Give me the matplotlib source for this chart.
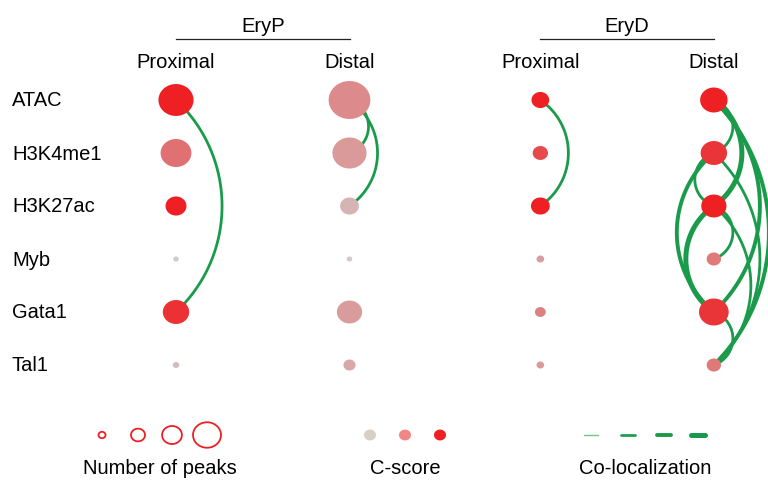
import numpy as np
import matplotlib
matplotlib.use('Agg')
import matplotlib.pyplot as plt
from matplotlib.path import Path
from matplotlib.colors import LinearSegmentedColormap

plt.rcParams['font.family'] = ['Liberation Sans', 'DejaVu Sans']

#####################
# Data
#####################
marks = ['ATAC', 'H3K4me1', 'H3K27ac', 'Myb', 'Gata1', 'Tal1']
groups = ['EryP', 'EryD']
regions = ['Proximal', 'Distal']

# number of peaks (thousands) per column, rows in order of marks
peaks_eryp_prox = [12.6, 9.7, 4.5, 0.31, 7.1, 0.44]
peaks_eryp_dist = [17.8, 11.9, 3.6, 0.31, 6.5, 1.5]
peaks_eryd_prox = [3.2, 2.4, 3.6, 0.6, 1.2, 0.6]
peaks_eryd_dist = [7.7, 7.1, 6.5, 2.1, 9.0, 2.1]

# C-score (scaled 0-1)
cscore_eryp_prox = [1.0, 0.62, 1.0, 0.0, 0.92, 0.12]
cscore_eryp_dist = [0.5, 0.38, 0.18, 0.03, 0.36, 0.28]
cscore_eryd_prox = [1.0, 0.8, 1.0, 0.35, 0.55, 0.38]
cscore_eryd_dist = [1.0, 0.9, 1.0, 0.58, 0.9, 0.58]

# co-localization links: (mark a, mark b, side, level 1-4)
links_eryp_prox = [('ATAC', 'Gata1', 1, 2)]
links_eryp_dist = [('ATAC', 'H3K4me1', 1, 2), ('ATAC', 'H3K27ac', 1, 2)]
links_eryd_prox = [('ATAC', 'H3K27ac', 1, 2)]
links_eryd_dist = [('ATAC', 'H3K4me1', 1, 2), ('ATAC', 'H3K27ac', 1, 4),
                   ('ATAC', 'Gata1', 1, 3), ('ATAC', 'Tal1', 1, 3),
                   ('H3K4me1', 'H3K27ac', -1, 2), ('H3K4me1', 'Gata1', -1, 3),
                   ('H3K4me1', 'Tal1', 1, 2), ('H3K27ac', 'Myb', 1, 2),
                   ('H3K27ac', 'Gata1', -1, 4), ('H3K27ac', 'Tal1', 1, 2),
                   ('Gata1', 'Tal1', 1, 2)]

legend_peaks = [0.5, 2, 4, 8]
legend_cscore = [0.0, 0.5, 1.0]
legend_coloc = [1, 2, 3, 4]

columns = [
    (peaks_eryp_prox, cscore_eryp_prox, links_eryp_prox),
    (peaks_eryp_dist, cscore_eryp_dist, links_eryp_dist),
    (peaks_eryd_prox, cscore_eryd_prox, links_eryd_prox),
    (peaks_eryd_dist, cscore_eryd_dist, links_eryd_dist),
]
col_x = [0, 1, 2.1, 3.1]

#####################
# Styles
#####################
cmap = LinearSegmentedColormap.from_list('cs', ['#d2cbcb', '#dc8a8b', '#ee2024'])
legend_cs_colors = ['#d8d0c4', '#f28585', '#ee2024']
coloc_lw = {1: 1.0, 2: 2.0, 3: 2.8, 4: 3.6}
coloc_col = {1: '#6cc485', 2: '#1f9e4d', 3: '#1a9a48', 4: '#18984a'}
green = '#1a9b4b'

XU, YU = 173.5, 53.0          # pixels per column / row unit
X0, Y0 = 176.0, 101.0

def px2x(p):
    return (p - X0) / XU

def px2y(p):
    return (p - Y0) / YU

def diam(pk):
    # marker height in px from peak count
    return 9 * np.sqrt(pk)

t = np.linspace(0, 2 * np.pi, 60)
ell = Path(np.column_stack([1.1 * np.cos(t), np.sin(t)]), closed=True)

def msize(pk):
    return (1.1 * diam(np.asarray(pk)) * 0.72) ** 2

def arc(cx, ya, yb, side):
    # circular arc between two rows of one column, worked out in pixels
    c = abs(yb - ya) * YU
    s = 10 + 0.17 * c
    R = (c * c / 4 + s * s) / (2 * s)
    th = np.arcsin(c / 2 / R)
    phi = np.linspace(-th, th, 80)
    xc = cx * XU + side * (s - R)
    ym = (ya + yb) / 2 * YU
    xs = xc + side * R * np.cos(phi)
    ys = ym + R * np.sin(phi)
    return xs / XU, ys / YU

fig = plt.figure(figsize=(7.68, 4.81), dpi=100)
ax = fig.add_axes([0, 0, 1, 1])
ax.set_xlim(px2x(0), px2x(768))
ax.set_ylim(px2y(481), px2y(0))
ax.set_axis_off()

rows = np.arange(len(marks))
for cx, (pk, cs, links) in zip(col_x, columns):
    for a, b, side, lvl in links:
        xs, ys = arc(cx, marks.index(a), marks.index(b), side)
        ax.plot(xs, ys, color=green, lw=coloc_lw[lvl], zorder=1, clip_on=False)
    ax.scatter(np.full(len(marks), cx), rows, s=msize(pk), c=cmap(np.asarray(cs)),
               marker=ell, linewidths=0, zorder=2)

# headers
fs = 14.5
for i, lab in enumerate(marks):
    ax.text(px2x(12), i, lab, fontsize=fs, va='center', ha='left')
for cx, lab in zip(col_x, regions * 2):
    ax.text(cx, px2y(62), lab, fontsize=fs, va='center', ha='center')
for g, (c0, c1) in zip(groups, [(col_x[0], col_x[1]), (col_x[2], col_x[3])]):
    ax.plot([c0, c1], [px2y(40), px2y(40)], color='#222222', lw=0.9)
    ax.text((c0 + c1) / 2, px2y(27), g, fontsize=fs, va='center', ha='center')

# legends
ly = px2y(436)
lab_y = px2y(469)
ax.scatter([px2x(v) for v in [102, 138, 172, 207]], [ly] * 4, s=msize(legend_peaks),
           marker=ell, facecolors='none', edgecolors='#ee2024', linewidths=1.3)
ax.text(px2x(160), lab_y, 'Number of peaks', fontsize=fs, va='center', ha='center')

ax.scatter([px2x(v) for v in [370, 405, 440]], [ly] * 3, s=(12 * 0.72) ** 2,
           c=legend_cs_colors, marker=ell, linewidths=0)
ax.text(px2x(405), lab_y, 'C-score', fontsize=fs, va='center', ha='center')

for cxp, lvl in zip([591, 628, 664, 698], legend_coloc):
    ax.plot([px2x(cxp - 7), px2x(cxp + 7)], [ly, ly], color=coloc_col[lvl],
            lw=coloc_lw[lvl], solid_capstyle='round')
ax.text(px2x(645), lab_y, 'Co-localization', fontsize=fs, va='center', ha='center')

fig.savefig('out.png', dpi=100)
